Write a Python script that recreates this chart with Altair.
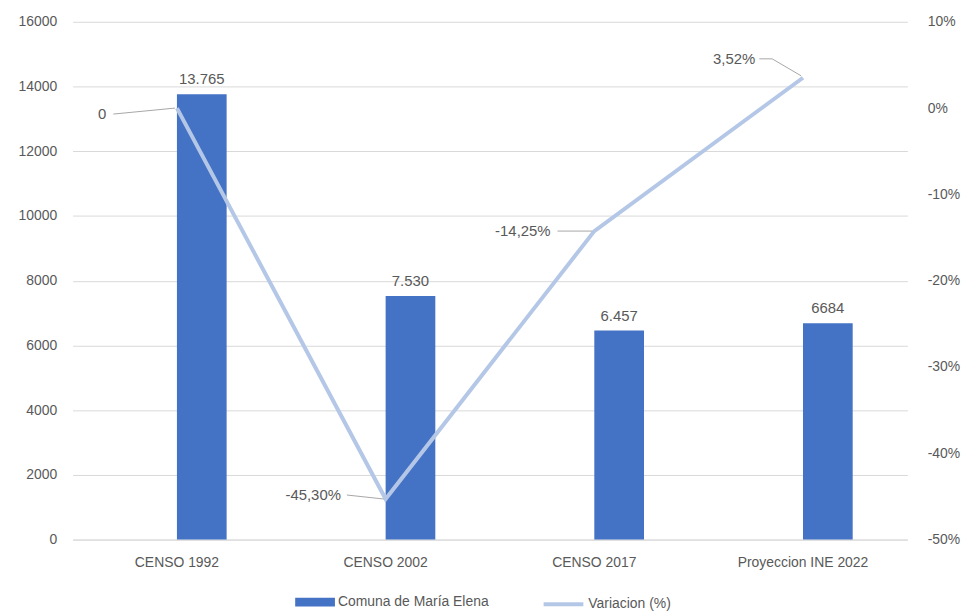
import altair as alt
import pandas as pd

categories = ["CENSO 1992", "CENSO 2002", "CENSO 2017", "Proyeccion INE 2022"]
population = [13765, 7530, 6457, 6684]
population_labels = ["13.765", "7.530", "6.457", "6684"]
variation = [0.0, -0.4530, -0.1425, 0.0352]
variation_labels = ["0", "-45,30%", "-14,25%", "3,52%"]
left_ticks = [0, 2000, 4000, 6000, 8000, 10000, 12000, 14000, 16000]
right_ticks = [-0.5, -0.4, -0.3, -0.2, -0.1, 0.0, 0.1]
bar_series = "Comuna de María Elena"
line_series = "Variacion (%)"

df = pd.DataFrame({
    "cat": categories,
    "pop": population,
    "pop_label": population_labels,
    "var": variation,
    "var_label": variation_labels,
    "bar_series": [bar_series] * len(categories),
    "line_series": [line_series] * len(categories),
})

FONT = "Liberation Sans"
GRAY = "#595959"

x = alt.X("cat:N", sort=categories,
          scale=alt.Scale(paddingInner=0, paddingOuter=0),
          axis=alt.Axis(title=None, labelAngle=0, ticks=False, domainColor="#D9D9D9", grid=False,
                        labelPadding=16, labelFontSize=14, labelColor=GRAY, labelFont=FONT))

y_left = alt.Y("pop:Q", scale=alt.Scale(domain=[0, 16000], nice=False),
               axis=alt.Axis(title=None, values=left_ticks, format="d", ticks=False, domain=False,
                             labelPadding=16, labelFontSize=14, labelColor=GRAY, labelFont=FONT,
                             gridColor="#D9D9D9", gridWidth=1))

y_right = alt.Y("var:Q", scale=alt.Scale(domain=[-0.5, 0.1], nice=False),
                axis=alt.Axis(title=None, orient="right", values=right_ticks, grid=False,
                              labelExpr="round(datum.value*100) + '%'", ticks=False, domain=False,
                              labelPadding=20, labelFontSize=14, labelColor=GRAY, labelFont=FONT))

base = alt.Chart(df)

bars = base.mark_bar(width=50, xOffset=25).encode(
    x=x, y=y_left,
    fill=alt.Fill("bar_series:N", scale=alt.Scale(range=["#4472C4"]),
                  legend=alt.Legend(title=None, orient="none", legendX=224, legendY=564,
                                    symbolType="M-1,-0.22H1V0.22H-1Z", symbolSize=1600,
                                    symbolStrokeWidth=0, labelFontSize=14, labelColor=GRAY,
                                    labelFont=FONT, labelOffset=3, padding=0)),
)
bar_text = base.mark_text(dx=25, dy=-7, baseline="bottom", fontSize=15, color=GRAY, font=FONT).encode(
    x=x, y=y_left, text="pop_label:N")

line = base.mark_line(strokeWidth=4).encode(
    x=x, y=y_right,
    stroke=alt.Stroke("line_series:N", scale=alt.Scale(range=["#B4C7E7"]),
                      legend=alt.Legend(title=None, orient="none", legendX=472, legendY=564,
                                        symbolType="stroke", symbolSize=1600, symbolStrokeWidth=4,
                                        labelFontSize=14, labelColor=GRAY, labelFont=FONT,
                                        labelOffset=3, padding=0)),
)

# label offsets (dx, dy) and leader segments (x1, y1, x2, y2) relative to each point
label_offsets = [(-71, 6), (-45, -4), (-44, 0), (-48, -19)]
leaders = [
    [(-64, 6, -2, 0)],
    [(-39, -4, -2, 0)],
    [(-37, 0, -2, 0)],
    [(-44, -19, -31, -19), (-31, -19, -2, -2)],
]

line_layers = [line]
for i, cat in enumerate(categories):
    sub = base.transform_filter(alt.datum.cat == cat)
    dx, dy = label_offsets[i]
    line_layers.append(
        sub.mark_text(align="right", baseline="middle", dx=dx, dy=dy, fontSize=15,
                      color=GRAY, font=FONT).encode(x=x, y=y_right, text="var_label:N"))
    for (x1, y1, x2o, y2o) in leaders[i]:
        line_layers.append(
            sub.mark_rule(color="#A6A6A6", strokeWidth=1, xOffset=x1, yOffset=y1,
                          x2Offset=x2o, y2Offset=y2o).encode(
                x=x, x2="cat:N", y=y_right, y2="var:Q"))

left_layer = alt.layer(bars, bar_text)
right_layer = alt.layer(*line_layers)

chart = alt.layer(left_layer, right_layer).resolve_scale(y="independent").properties(
    width=840, height=521,
    background="white",
    autosize=alt.AutoSizeParams(type="none"),
    padding={"left": 65, "top": 12, "right": 54, "bottom": 70},
).configure_view(stroke=None, strokeWidth=0)

chart.save("out.html", embed_options={"renderer": "svg", "actions": False})
